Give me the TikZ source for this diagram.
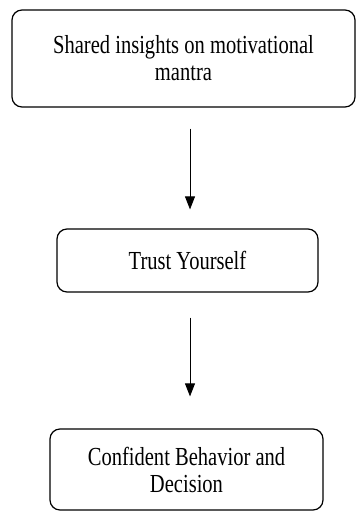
\documentclass[tikz,border=0pt]{standalone}
\usepackage{fontspec}
\setmainfont{Liberation Serif}[FakeStretch=0.79]
\usetikzlibrary{arrows.meta}
\begin{document}
\begin{tikzpicture}[x=1pt,y=-1pt,
    stepbox/.style={draw,line width=1.2pt,rounded corners=10pt,align=center,
        inner sep=0pt,font=\fontsize{26}{27}\selectfont},
    flow/.style={-{Triangle[width=10pt,length=13pt]},line width=0.8pt}]
    \useasboundingbox (0,0) rectangle (356,512);

    \node[stepbox,minimum width=343pt,minimum height=97pt] (insights) at (183.5,58.5)
        {Shared insights on motivational\\mantra};
    \node[stepbox,minimum width=261pt,minimum height=63pt] (trust) at (187.5,260.5)
        {Trust Yourself};
    \node[stepbox,minimum width=273pt,minimum height=81pt] (confident) at (186.5,469.5)
        {Confident Behavior and\\Decision};

    \draw[flow,shorten <=21pt,shorten >=19pt] (insights.south -| 190,0) -- (trust.north -| 190,0); % gap on both ends
    \draw[flow,shorten <=25pt,shorten >=32pt] (trust.south -| 190,0) -- (confident.north -| 190,0);

\end{tikzpicture}
\end{document}
